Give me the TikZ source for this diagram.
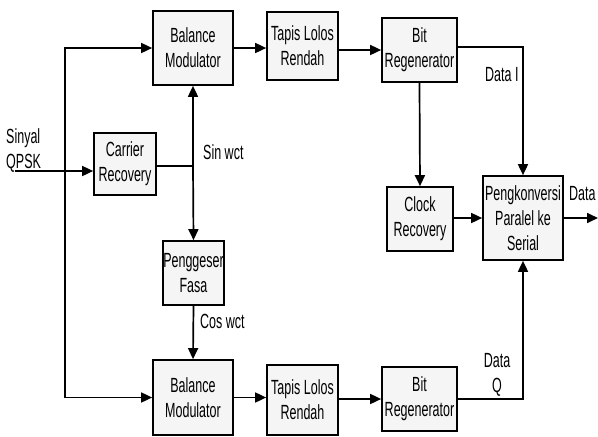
\documentclass[tikz,border=0pt]{standalone}
\usepackage{fontspec}
\setmainfont{Liberation Sans}[FakeStretch=0.61]
\usetikzlibrary{arrows.meta, positioning, calc, shadows}
\tikzset{
    base/.style={draw, line width=1.7pt, align=center, inner sep=0pt, fill=gray!8,
        font=\fontsize{20.5}{25}\selectfont,
        drop shadow={shadow xshift=1.2pt, shadow yshift=-1.2pt, opacity=0.45, fill=black!60}},
    block/.style={base, rectangle},
    lbl/.style={font=\fontsize{20.5}{25}\selectfont, inner sep=0pt, align=center},
    arrow/.style={-{Triangle[length=11pt, width=10pt]}, line width=1.7pt},
    wire/.style={line width=1.7pt}
}

\begin{document}
\begin{tikzpicture}[x=1pt, y=-1pt]
    \useasboundingbox (0,0) rectangle (598,437);

    % jalur I
    \node (bmI)  [block, minimum width=80pt, minimum height=74pt] at (193,48)    {Balance\\Modulator};
    \node (lpfI) [block, minimum width=71pt, minimum height=68pt] at (302.5,46)  {Tapis Lolos\\Rendah};
    \node (bitI) [block, minimum width=75pt, minimum height=64pt] at (419.5,50)  {Bit\\Regenerator};
    % pemulihan carrier
    \node (cr)   [block, minimum width=62pt, minimum height=62pt] at (125,164)   {Carrier\\Recovery};
    \node (ps)   [block, minimum width=61pt, minimum height=64pt] at (193.5,273) {Penggeser\\Fasa};
    % jalur Q
    \node (bmQ)  [block, minimum width=80pt, minimum height=75pt] at (193,397.5) {Balance\\Modulator};
    \node (lpfQ) [block, minimum width=71pt, minimum height=70pt] at (302.5,400) {Tapis Lolos\\Rendah};
    \node (bitQ) [block, minimum width=75pt, minimum height=64pt] at (419.5,399) {Bit\\Regenerator};
    % keluaran
    \node (clk)  [block, minimum width=66pt, minimum height=64pt] at (420,219)   {Clock\\Recovery};
    \node (p2s)  [block, minimum width=80pt, minimum height=84pt] at (523,218)   {Pengkonversi\\Paralel ke\\Serial};

    \coordinate (in)    at (15,171);
    \coordinate (split) at (65,171);
    \coordinate (sin)   at (193,166);
    \coordinate (out)   at (598,218);

    \node (inlbl)   [lbl, anchor=west, align=left] at (6,151) {Sinyal\\QPSK};
    \node (sinlbl)  [lbl, anchor=west] at (203,152) {Sin wct};
    \node (coslbl)  [lbl, anchor=west] at (200,321) {Cos wct};
    \node (dilbl)   [lbl, anchor=west] at (485,75)  {Data I};
    \node (dqlbl)   [lbl] at (497,375) {Data\\Q};
    \node (datalbl) [lbl, anchor=west] at (569,194) {Data};

    \draw [arrow] (in) -- (in -| cr.west);
    \draw [arrow] (split) |- (bmI.west);
    \draw [arrow] (split) |- (bmQ.west);
    \draw [wire]  (cr.east |- sin) -- (sin);
    \draw [arrow] (sin) -- (bmI.south);
    \draw [arrow] (sin) -- (ps.north);
    \draw [arrow] (ps.south) -- (bmQ.north);

    \draw [arrow] (bmI.east) -- (bmI.east -| lpfI.west);
    \draw [arrow] (lpfI.east |- bitI.west) -- (bitI.west);
    \draw [arrow] (bmQ.east) -- (bmQ.east -| lpfQ.west);
    \draw [arrow] (lpfQ.east |- bitQ.west) -- (bitQ.west);

    \draw [arrow] ($(bitI.north east)!0.45!(bitI.south east)$) -| (p2s.north);
    \draw [arrow] (bitI.south) -- (clk.north);
    \draw [arrow] (clk.east |- p2s.west) -- (p2s.west);
    \draw [arrow] (bitQ.east) -| (p2s.south);
    \draw [arrow] (p2s.east) -- (out);
\end{tikzpicture}
\end{document}
